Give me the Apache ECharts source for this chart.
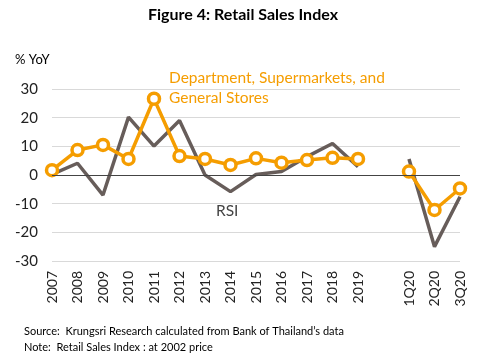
<!DOCTYPE html>
<html><head><meta charset="utf-8">
<script src="https://cdn.jsdelivr.net/npm/echarts@6/dist/echarts.min.js"></script>
<style>html,body{margin:0;padding:0;background:#fff}#c{width:486px;height:364px}</style>
</head><body><div id="c"></div>
<script>
const categories = ['2007','2008','2009','2010','2011','2012','2013','2014','2015','2016','2017','2018','2019','','1Q20','2Q20','3Q20'];
const deptStores = [1.7, 8.7, 10.5, 5.6, 26.6, 6.6, 5.6, 3.5, 5.8, 4.3, 5.2, 6.0, 5.6, null, 1.2, -12.2, -4.7];
const rsi = [0.2, 4.1, -7.0, 20.2, 10.1, 19.0, 0.0, -5.8, 0.2, 1.2, 6.4, 11.0, 2.9, null, 5.6, -25.0, -7.6];
const yTicks = {min: -30, max: 30, interval: 10};
const FONT = 'Lato, "Open Sans", sans-serif';
const chart = echarts.init(document.getElementById('c'), null, {renderer: 'canvas'});
chart.setOption({
  animation: false,
  grid: {left: 52, right: 26, top: 89, bottom: 103, containLabel: false},
  xAxis: {
    type: 'category', data: categories, boundaryGap: false,
    axisLine: {show: false}, axisTick: {show: false},
    axisLabel: {rotate: 90, margin: 10, fontSize: 14, color: '#222', fontFamily: FONT, interval: 0}
  },
  yAxis: {
    type: 'value', min: yTicks.min, max: yTicks.max, interval: yTicks.interval,
    axisLine: {show: false}, axisTick: {show: false},
    axisLabel: {fontSize: 15, color: '#222', fontFamily: FONT, margin: 14},
    splitLine: {lineStyle: {color: '#d9d9d9', width: 1}}
  },
  series: [
    {
      name: 'RSI', type: 'line', data: rsi, connectNulls: false,
      showSymbol: false, symbol: 'none',
      lineStyle: {color: '#675d5a', width: 3.5}, z: 2,
      markLine: {silent: true, symbol: 'none', label: {show: false},
        lineStyle: {color: '#444', width: 1, type: 'solid'}, data: [{yAxis: 0}]}
    },
    {
      name: 'Department, Supermarkets, and General Stores', type: 'line', data: deptStores, connectNulls: false,
      symbol: 'circle', symbolSize: 11,
      itemStyle: {color: '#fff', borderColor: '#f59d00', borderWidth: 3.5},
      lineStyle: {color: '#f59d00', width: 3.5}, z: 3
    }
  ],
  graphic: [
    {type: 'text', left: 'center', top: 7, style: {text: 'Figure 4: Retail Sales Index', font: 'bold 16px ' + FONT, fill: '#000'}},
    {type: 'text', left: 15, top: 53, style: {text: '% YoY', font: '13px ' + FONT, fill: '#000'}},
    {type: 'text', left: 169, top: 68, style: {text: 'Department, Supermarkets, and\nGeneral Stores', font: '15.5px ' + FONT, lineHeight: 20, fill: '#f59d00'}},
    {type: 'text', left: 216, top: 203, style: {text: 'RSI', font: '15.5px ' + FONT, fill: '#444'}},
    {type: 'text', left: 24, top: 326, style: {text: 'Source:  Krungsri Research calculated from Bank of Thailand\u2019s data', font: '11px ' + FONT, fill: '#000'}},
    {type: 'text', left: 24, top: 342, style: {text: 'Note:  Retail Sales Index : at 2002 price', font: '11px ' + FONT, fill: '#000'}}
  ]
});
</script></body></html>
